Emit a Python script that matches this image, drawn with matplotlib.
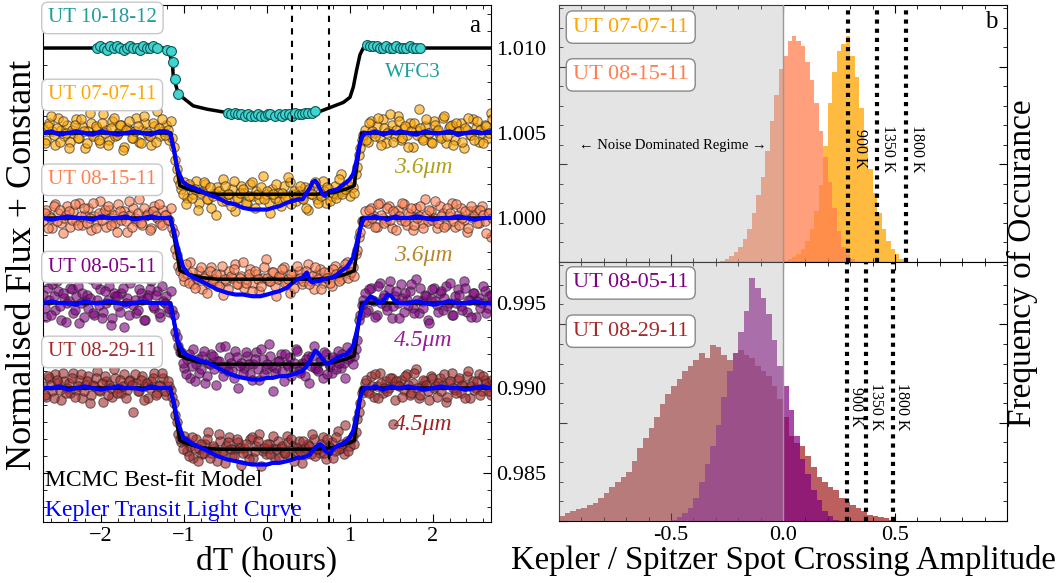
import numpy as np
import matplotlib
matplotlib.use("Agg")
import matplotlib.pyplot as plt
from matplotlib.ticker import AutoMinorLocator, MultipleLocator, FixedLocator, FormatStrFormatter

plt.rcParams['font.family'] = ['Liberation Serif', 'DejaVu Serif']
plt.rcParams['mathtext.fontset'] = 'custom'
plt.rcParams['mathtext.rm'] = 'Liberation Serif'
plt.rcParams['mathtext.it'] = 'Liberation Serif:italic'

# ---------------- panel a: light curves (flux offsets in units of 1e-4) -------------
spz_names = ['UT 07-07-11', 'UT 08-15-11', 'UT 08-05-11', 'UT 08-29-11']
spz_base = [1.005, 1.000, 0.995, 0.990]
spz_colors = ['orange', 'coral', 'purple', 'brown']
spz_band = ['3.6\u03bcm', '3.6\u03bcm', '4.5\u03bcm', '4.5\u03bcm']
spz_band_colors = ['#B0A01E', '#B8862B', '#9B1B9B', '#A52020']

# Spitzer points, two interleaved sets of 150 from -2.7 h to 2.7 h
spz_flux_a = [3, -4, 6, 1, -7, 9, 2, -2, 5, -5, 0, 8, -3, 4, -9, 1, 6, -1, 3, -6, 11, 2, -4, 7, -2,
              0, 5, -8, 3, 1, -3, 9, -5, 2, 6, -1, -7, 4, 13, -2, 1, 5, -4,
              -3, -16, -27,
              -33, -29, -38, -31, -36, -28, -41, -34, -30, -39, -44, -35, -32, -37, -27, -40, -36, -33,
              -46, -38, -31, -35, -42, -30, -37, -34, -39, -25, -36, -41, -33, -38, -35, -43, -31, -37,
              -29, -36, -40, -34, -38, -32, -45, -36, -30, -39, -35, -28, -41, -33, -37, -31, -36, -24,
              -34, -30, -37, -32,
              -24, -13, -4,
              2, -5, 7, 0, 4, -3, 8, -6, 1, 5, -2, 10, -4, 3, -1, 6, -8, 2, 14, -3, 4, 0, -5, 7, 1,
              -2, 9, -6, 3, 5, -4, 1, 6, -9, 2, -1, 8, 3, -5, 0, 5, -3, 12]
spz_flux_a2 = [-6, 4, 10, -1, 3, -5, 7, 0, -9, 2, 5, -3, 8, 1, -6, 12, -2, 4, -4, 6, 0, -7, 3, 9, -1,
               5, -10, 2, 7, -3, 1, 4, -6, 10, 0, -2, 6, -5, 3, 8, -1, 2, 7,
               -8, -21, -30,
               -36, -42, -30, -38, -33, -45, -35, -29, -39, -32, -37, -48, -34, -40, -31, -36, -43, -28,
               -38, -35, -33, -41, -37, -29, -44, -36, -32, -39, -34, -47, -36, -30, -40, -35, -38, -26,
               -42, -34, -37, -31, -39, -44, -33, -36, -29, -41, -37, -34, -32, -40, -35, -38, -27, -36,
               -33, -31, -29, -35,
               -20, -9, -1,
               -4, 6, 1, -2, 9, -7, 3, 0, 11, -5, 2, 7, -3, 4, -8, 1, 6, -1, 3, -4, 8, 0, -6, 5, 2,
               -3, 10, -2, 4, -7, 6, 1, -5, 3, 9, -1, -4, 7, 2, -6, 4, 0, 8]
spz_flux_b = [-2, 5, 1, -6, 8, 3, -3, 0, 7, -5, 4, -1, 9, -4, 2, 6, -7, 1, -2, 10, 3, -5, 5, 0, -3,
              8, -1, 4, -8, 2, 6, -2, 11, -4, 1, 3, -6, 7, 0, -3, 5, 2, -1,
              -6, -18, -28,
              -30, -37, -33, -26, -39, -35, -31, -42, -34, -38, -29, -36, -40, -33, -45, -37, -31, -35,
              -27, -39, -34, -41, -36, -30, -38, -33, -43, -35, -24, -37, -32, -40, -36, -34, -29, -38,
              -44, -33, -36, -31, -39, -35, -27, -37, -42, -33, -30, -38, -35, -32, -40, -28, -34, -36,
              -30, -26, -33, -29,
              -21, -11, -2,
              4, -3, 6, 1, -5, 9, 0, -2, 7, -6, 3, 5, -1, 8, -4, 2, -7, 6, 1, -3, 11, -2, 4, 0, -6,
              7, 3, -4, 1, 9, -5, 2, 6, -1, -8, 4, 0, 5, -3, 7, -2, 3, -11]
spz_flux_b2 = [3, -6, 0, 7, -2, 5, -9, 2, 4, -1, 8, -4, 1, 6, -3, 0, 9, -6, 3, -1, 5, 7, -4, 2, -8,
               4, 1, -2, 10, -5, 0, 3, -3, 6, 2, -7, 4, 1, 8, -4, 2, -1, 6,
               -9, -22, -31,
               -34, -27, -38, -32, -41, -36, -29, -35, -44, -31, -37, -33, -40, -28, -36, -42, -34, -30,
               -39, -35, -26, -38, -33, -43, -31, -36, -40, -29, -35, -37, -32, -46, -34, -30, -38, -36,
               -33, -41, -28, -35, -37, -31, -39, -34, -29, -36, -42, -32, -35, -38, -30, -33, -37, -31,
               -27, -35, -32, -34,
               -19, -8, -2,
               -2, 5, 0, -5, 8, 2, -3, 6, -1, 4, -7, 1, 9, -2, 3, 6, -4, 0, 7, -6, 2, 5, -1, 10, -3,
               1, -5, 6, 3, -2, 8, -4, 0, 4, -6, 7, 1, -3, 5, 2, -9, 3, 0]
spz_flux_c = [5, -8, 2, 11, -4, 7, -10, 3, 0, 9, -6, 4, -12, 6, 1, -3, 14, -7, 2, 8, -5, 0, 10, -9, 4,
              -2, 6, -14, 3, 12, -1, -6, 8, 2, -10, 5, 13, -3, 7, -8, 1, 4, -5,
              -4, -17, -25,
              -29, -38, -33, -44, -27, -36, -41, -31, -47, -35, -30, -39, -34, -26, -43, -37, -32, -40,
              -28, -50, -35, -38, -31, -42, -36, -29, -45, -33, -39, -24, -37, -41, -34, -30, -46, -36,
              -32, -38, -27, -40, -35, -43, -31, -37, -25, -39, -34, -44, -30, -36, -41, -33, -28, -38,
              -35, -26, -32, -36,
              -27, -10, -1,
              6, -4, 9, 1, -7, 12, 3, -2, 8, -9, 4, 0, 11, -5, 2, 7, -3, 14, -6, 1, 5, -10, 3, 9, -1,
              6, -4, 10, 0, -7, 4, 8, -2, 13, -5, 2, 6, -8, 3, 0, 7, -3, 5]
spz_flux_c2 = [-3, 9, -7, 4, 13, -2, 6, -11, 1, 8, -4, 10, 0, -8, 5, 3, -6, 11, -1, -9, 7, 2, -13, 6, 4,
               -5, 9, 0, -7, 15, 2, -4, 6, -10, 3, 8, -2, 5, -6, 10, 0, -3, 7,
               -7, -20, -29,
               -35, -42, -30, -37, -46, -33, -39, -28, -43, -36, -31, -48, -34, -38, -25, -40, -35, -44,
               -32, -37, -41, -29, -36, -45, -33, -39, -27, -42, -36, -31, -52, -38, -34, -40, -30, -37,
               -43, -35, -28, -41, -36, -33, -47, -31, -38, -40, -34, -29, -42, -37, -32, -39, -35, -30,
               -44, -33, -29, -31,
               -22, -7, 2,
               -5, 8, 2, -8, 10, 0, 5, -4, 13, -2, 7, -9, 3, 6, -1, 11, -6, 2, 9, -3, 4, -12, 8, 1, -5,
               7, 3, -2, 12, -7, 0, 5, -4, 9, 2, -8, 6, 1, -3, 10, -6, 4, 1]
spz_flux_d = [1, -5, 6, -2, 8, 3, -7, 4, 0, -3, 9, -1, 5, -6, 2, 7, -4, 1, 10, -2, -8, 4, 2, -5, 6,
              0, -3, 8, -1, 5, -14, 3, -2, 7, 1, -6, 4, 9, -3, 2, 6, -4, 1,
              -5, -16, -27,
              -32, -28, -37, -34, -41, -30, -36, -39, -33, -26, -38, -35, -43, -31, -37, -34, -29, -40,
              -36, -32, -45, -35, -38, -30, -41, -34, -27, -37, -39, -33, -36, -42, -31, -35, -38, -28,
              -40, -34, -37, -31, -44, -35, -33, -39, -30, -36, -38, -29, -42, -34, -32, -37, -25, -35,
              -39, -31, -34, -28,
              -26, -14, -3,
              3, -2, 7, -5, 1, 9, -3, 4, 0, 6, -7, 2, 5, -1, 8, -4, 3, 11, -6, 1, 4, -2, 7, 0, -5,
              6, 2, -8, 3, 9, -1, 5, -3, 1, 7, -6, 4, 0, 8, -2, 5, 1, -4]
spz_flux_d2 = [-4, 7, 2, -6, 5, -1, 9, -3, 3, 6, -5, 1, 8, -2, 4, -9, 2, 6, -1, 3, 7, -4, 0, 11, -3,
               5, 1, -6, 4, 2, 8, -2, 5, -7, 3, 0, 6, -4, 1, 9, -2, 4, -1,
               -9, -20, -30,
               -36, -31, -40, -29, -35, -43, -33, -38, -30, -41, -34, -37, -27, -39, -44, -32, -36, -40,
               -30, -35, -38, -33, -42, -29, -37, -31, -46, -35, -33, -39, -28, -36, -41, -34, -38, -32,
               -30, -43, -35, -37, -31, -39, -34, -27, -40, -36, -33, -38, -30, -35, -41, -29, -36, -33,
               -22, -37, -30, -33,
               -18, -9, -1,
               5, -3, 1, 8, -6, 3, 0, -2, 6, -21, 4, 1, -5, 7, 2, -3, 9, 0, -4, 5, 2, -7, 6, 1, 3,
               -2, 8, -5, 4, 0, -3, 6, 2, -6, 10, 1, -1, 4, -4, 7, 3, -2, 5]
spz_flux = [(spz_flux_a, spz_flux_a2), (spz_flux_b, spz_flux_b2),
            (spz_flux_c, spz_flux_c2), (spz_flux_d, spz_flux_d2)]

# MCMC best-fit model vertices (same shape for every Spitzer epoch)
model_t = [-2.7, -1.16, -1.05, -0.95, -0.8, -0.6, 0.0, 0.6, 0.8, 0.95, 1.05, 1.14, 2.7]
model_f = [0, 0, -31, -33, -35, -36, -36, -36, -35, -33, -31, 0, 0]

# Kepler transit light curves (one per epoch)
kep_t = [-2.7, -2.6, -2.5, -2.4, -2.3, -2.2, -2.1, -2.0, -1.9, -1.8, -1.7, -1.6, -1.5, -1.4, -1.3, -1.22,
         -1.17, -1.12, -1.08, -1.04, -1.01, -0.95, -0.89, -0.80, -0.72, -0.60, -0.48, -0.38, -0.29,
         -0.18, -0.08, 0.00, 0.07, 0.15, 0.24, 0.31, 0.37, 0.43, 0.48, 0.52, 0.55, 0.58, 0.61, 0.64,
         0.67, 0.70, 0.73, 0.76, 0.79, 0.85, 0.90, 0.96, 1.00, 1.04, 1.08, 1.12, 1.15, 1.18,
         1.25, 1.3, 1.35, 1.4, 1.45, 1.5, 1.55, 1.6, 1.7, 1.8, 1.9, 2.0, 2.1, 2.2, 2.3, 2.4, 2.5, 2.6, 2.7]
kep_a = [0, 1, -1, 0, 1, 0, -1, 1, 0, -1, 0, 1, 0, -1, 1, 1,
         0, -10, -21, -26, -29, -31, -32, -34, -36, -38, -41, -42, -44, -45, -45, -45, -44, -43, -41, -40,
         -39, -39, -35, -32, -29, -28, -30, -33, -36, -37, -35, -34, -34, -33, -31, -29, -27, -24, -16, -6,
         -2, 0,
         0, 1, 0, -1, 0, 1, 0, 1, 0, -1, 1, 0, 0, 1, -1, 0, 1, 0, 1]
kep_b = [0, -1, 0, 1, 0, 0, -1, 1, 0, 0, 1, -1, 0, 1, 0, 0,
         0, -8, -17, -24, -29, -33, -35, -37, -39, -42, -44, -45, -45, -46, -46, -45, -44, -43, -41, -38,
         -36, -35, -32, -37, -38, -37, -37, -37, -36, -36, -36, -35, -35, -33, -31, -29, -26, -23, -15, -7,
         -2, 0,
         0, 1, 0, 0, -1, 0, 1, 0, 0, 1, 0, -1, 0, 0, 1, 0, -1, 0, 0]
kep_c = [0, 1, 0, 0, -1, 1, 0, 0, 1, 0, -1, 0, 1, 0, 0, 0,
         0, -11, -22, -26, -29, -31, -32, -34, -35, -38, -41, -43, -44, -45, -45, -44, -44, -43, -43, -42,
         -41, -40, -37, -34, -31, -28, -29, -31, -33, -35, -36, -35, -34, -32, -31, -30, -28, -25, -17, -8,
         -2, 0,
         4, 2, 0, 1, 5, 4, 1, 0, 0, 1, 0, -1, 0, 1, 0, 0, 1, 0, 0]
kep_d = [0, 0, 1, -1, 0, 1, 0, -1, 0, 1, 0, 0, -1, 1, 0, 0,
         0, -9, -19, -25, -29, -31, -33, -35, -37, -40, -42, -43, -44, -45, -45, -45, -44, -44, -43, -42,
         -41, -41, -40, -39, -37, -35, -34, -33, -34, -37, -38, -39, -36, -34, -33, -31, -29, -25, -16, -6,
         -2, 0,
         0, 1, 0, -1, 0, 1, 0, 0, 1, 0, -1, 0, 1, 0, 0, -1, 0, 1, 0]
kep_flux = [kep_a, kep_b, kep_c, kep_d]

# HST/WFC3 epoch (base 1.010)
wfc3_t = [-2.05, -2.01, -1.97, -1.93, -1.89, -1.85, -1.81, -1.77, -1.73, -1.69, -1.65, -1.61, -1.57,
          -1.53, -1.49, -1.45, -1.41, -1.37, -1.33,
          -1.20, -1.16, -1.13, -1.11, -1.07,
          -0.47, -0.43, -0.39, -0.35, -0.31, -0.27, -0.23, -0.19, -0.15, -0.11, -0.07, -0.03, 0.01, 0.04,
          0.10, 0.14, 0.18, 0.22, 0.26, 0.30, 0.34, 0.38, 0.42, 0.46, 0.50, 0.54, 0.58,
          1.20, 1.24, 1.28, 1.32, 1.36, 1.40, 1.44, 1.48, 1.52, 1.56, 1.60, 1.64, 1.68, 1.72, 1.76, 1.80, 1.84]
wfc3_f = [0, 1, 0, -1, 1, 0, 1, 0, -1, 0, 1, 0, 0, -1, 1, 0, 0, 1, 0,
          -1, -2, -8, -18, -27,
          -38, -39, -38, -39, -39, -40, -39, -40, -40, -39, -40, -40, -39, -39,
          -40, -39, -40, -39, -39, -40, -38, -39, -39, -38, -38, -38, -37,
          2, 1, 1, 1, 0, 0, 1, 0, 0, 1, 0, 0, 0, 1, 0, 0, 0]
wfc3_model_t = [-2.7, -1.25, -1.19, -1.14, -1.13, -1.08, -1.02, -0.89, -0.72, -0.48, -0.33, 0.0, 0.31,
                0.6, 0.76, 0.92, 1.0, 1.04, 1.08, 1.12, 1.16, 2.7]
wfc3_model_f = [0, 0, -1, -9, -17, -25, -29, -34, -36, -38, -39, -40, -39, -38, -35, -32, -29, -23,
                -13, -4, 0, 0]

spot_times = [0.30, 0.75]

# ---------------- panel b: spot crossing amplitude histograms ----------------
edges_top = np.arange(-0.30, 0.561, 0.02)
hist_0815 = [0.0, 0.005, 0.01, 0.025, 0.04, 0.06, 0.09, 0.13, 0.19, 0.26, 0.33, 0.43, 0.55, 0.65, 0.75,
             0.80, 0.86, 0.88, 0.86, 0.84, 0.78, 0.71, 0.62, 0.51, 0.41, 0.31, 0.21, 0.12, 0.06, 0.03,
             0.01, 0.0, 0.0, 0.0, 0.0, 0.0, 0.0, 0.0, 0.0, 0.0, 0.0, 0.0, 0.0]
hist_0707 = [0.0, 0.0, 0.0, 0.0, 0.0, 0.0, 0.0, 0.0, 0.0, 0.0, 0.0, 0.0, 0.0, 0.0, 0.0,
             0.005, 0.01, 0.02, 0.03, 0.05, 0.08, 0.13, 0.20, 0.30, 0.45, 0.62, 0.74, 0.82, 0.85, 0.88,
             0.80, 0.72, 0.60, 0.45, 0.36, 0.27, 0.19, 0.13, 0.08, 0.05, 0.03, 0.01, 0.0]
edges_bot = np.arange(-1.0, 0.501, 0.025)
hist_0829 = [0.02, 0.03, 0.04, 0.045, 0.05, 0.06, 0.07, 0.09, 0.11, 0.13, 0.15, 0.17, 0.19, 0.23, 0.28,
             0.32, 0.36, 0.40, 0.45, 0.49, 0.52, 0.55, 0.58, 0.60, 0.62, 0.65, 0.63, 0.68, 0.67, 0.64,
             0.62, 0.65, 0.66, 0.64, 0.63, 0.60, 0.58, 0.56, 0.52, 0.47, 0.40, 0.33, 0.30, 0.29, 0.25,
             0.21, 0.17, 0.15, 0.13, 0.12, 0.09, 0.075, 0.06, 0.05, 0.04, 0.025, 0.02, 0.015, 0.01, 0.005]
edges_purple = np.arange(-0.5, 0.251, 0.025)
hist_0805 = [0.005, 0.015, 0.03, 0.05, 0.09, 0.15, 0.22, 0.29, 0.37, 0.48, 0.58, 0.65, 0.73, 0.81, 0.94,
             0.90, 0.86, 0.80, 0.70, 0.60, 0.52, 0.43, 0.33, 0.24, 0.18, 0.12, 0.08, 0.04, 0.02, 0.005]
temp_lines_top = [0.29, 0.42, 0.55]
temp_lines_bot = [0.284, 0.37, 0.49]
temp_labels = ['900 K', '1350 K', '1800 K']

# ---------------------------------------------------------------------------
fig = plt.figure(figsize=(10.6, 5.83), dpi=100)
axL = fig.add_axes([0.0406, 0.1046, 0.4226, 0.8868])
axT = fig.add_axes([0.5274, 0.5506, 0.4226, 0.4408])
axB = fig.add_axes([0.5274, 0.1063, 0.4226, 0.4443])

box_l = dict(boxstyle='round,pad=0.3', fc='white', ec='#c8c8c8', lw=1)
box_r = dict(boxstyle='round,pad=0.3', fc='white', ec='#888888', lw=1)

t_spz = np.linspace(-2.7, 2.7, 150)
t_spz2 = np.linspace(-2.682, 2.718, 150)
for i in range(4):
    base = spz_base[i]
    for tt, ff in zip((t_spz, t_spz2), spz_flux[i]):
        axL.scatter(tt, base + np.array(ff) * 1e-4, s=46, c=spz_colors[i], alpha=0.6,
                    edgecolors='#222222', linewidths=0.8, zorder=2)
    axL.plot(model_t, base + np.array(model_f) * 1e-4, color='black', lw=2.5, zorder=3)
    axL.plot(kep_t, base + np.array(kep_flux[i]) * 1e-4, color='blue', lw=3, zorder=4)

axL.plot(wfc3_model_t, 1.010 + np.array(wfc3_model_f) * 1e-4, color='black', lw=2.5, zorder=3)
axL.scatter(wfc3_t, 1.010 + np.array(wfc3_f) * 1e-4, s=50, c='#40D4D0', edgecolors='#0a5a5a',
            linewidths=0.8, zorder=4)

for ts in spot_times:
    axL.axvline(ts, color='black', ls=(0, (3, 3)), lw=1.5, zorder=5)

axL.set_xlim(-2.7, 2.7)
axL.set_ylim(0.98212, 1.01253)
axL.xaxis.set_major_locator(MultipleLocator(1))
axL.xaxis.set_minor_locator(AutoMinorLocator(5))
axL.yaxis.set_major_locator(MultipleLocator(0.005))
axL.yaxis.set_minor_locator(AutoMinorLocator(5))
axL.yaxis.set_major_formatter(FormatStrFormatter('%.3f'))
axL.tick_params(which='both', direction='in', top=True, right=True, left=True, bottom=True,
                labelleft=False, labelright=True, labelsize=16)
axL.tick_params(which='major', length=6)
axL.tick_params(which='minor', length=3)
axL.set_xlabel('dT (hours)', fontsize=24, labelpad=0)

axL.text(0.011, 0.975, 'UT 10-18-12', transform=axL.transAxes, color='#1E9E9A', fontsize=15,
         va='center', ha='left', bbox=box_l, zorder=10)
lab_y = [0.826, 0.662, 0.493, 0.329]
band_y = [0.685, 0.516, 0.352, 0.188]
for i in range(4):
    axL.text(0.011, lab_y[i], spz_names[i], transform=axL.transAxes, color=spz_colors[i],
             fontsize=15, va='center', ha='left', bbox=box_l, zorder=10)
    axL.text(0.848, band_y[i], spz_band[i], transform=axL.transAxes, color=spz_band_colors[i],
             fontsize=17, style='italic', va='center', ha='center', zorder=10)
axL.text(0.826, 0.87, 'WFC3', transform=axL.transAxes, color='#1E9E9A', fontsize=15,
         va='center', ha='center')
axL.text(0.004, 0.081, 'MCMC Best-fit Model', transform=axL.transAxes, color='black', fontsize=17,
         va='center', ha='left', zorder=10)
axL.text(0.004, 0.023, 'Kepler Transit Light Curve', transform=axL.transAxes, color='blue',
         fontsize=17, va='center', ha='left', zorder=10)
axL.text(0.975, 0.96, 'a', transform=axL.transAxes, fontsize=18, ha='right', va='center')

# right panels
axT.stairs(hist_0707, edges_top, fill=True, color='orange', alpha=0.75, lw=0, zorder=1)
axT.stairs(hist_0815, edges_top, fill=True, color='coral', alpha=0.75, lw=0, zorder=2)
axB.stairs(hist_0829, edges_bot, fill=True, color='brown', alpha=0.75, lw=0, zorder=1)
axB.stairs(hist_0805, edges_purple, fill=True, color='purple', alpha=0.7, lw=0, zorder=2)

for ax, lines in [(axT, temp_lines_top), (axB, temp_lines_bot)]:
    ax.axvspan(-1.0, 0.0, color='#b2b2b2', alpha=0.35, lw=0, zorder=3)
    ax.axvline(0.0, color='#999999', lw=1, zorder=3)
    for xv in lines:
        ax.axvline(xv, color='black', ls=(0, (1, 1.2)), lw=3, zorder=5)
    ax.set_xlim(-1.0, 1.0)
    ax.set_ylim(0, 1)
    ax.xaxis.set_major_locator(FixedLocator([-0.5, 0.0, 0.5]))
    ax.xaxis.set_minor_locator(MultipleLocator(0.1))
    ax.yaxis.set_major_locator(MultipleLocator(0.38))
    ax.yaxis.set_minor_locator(AutoMinorLocator(5))
    ax.tick_params(which='both', direction='in', top=True, right=True, left=True, bottom=True,
                   labelleft=False, labelsize=16)
    ax.tick_params(which='major', length=6)
    ax.tick_params(which='minor', length=3)

axT.tick_params(labelbottom=False)
axB.xaxis.set_major_formatter(FormatStrFormatter('%.1f'))
axB.set_xlabel('Kepler / Spitzer Spot Crossing Amplitude', fontsize=23.5, labelpad=0)

axT.text(0.031, 0.914, 'UT 07-07-11', transform=axT.transAxes, color='orange', fontsize=16,
         va='center', ha='left', bbox=box_r, zorder=10)
axT.text(0.031, 0.728, 'UT 08-15-11', transform=axT.transAxes, color='coral', fontsize=16,
         va='center', ha='left', bbox=box_r, zorder=10)
axB.text(0.031, 0.919, 'UT 08-05-11', transform=axB.transAxes, color='purple', fontsize=16,
         va='center', ha='left', bbox=box_r, zorder=10)
axB.text(0.031, 0.733, 'UT 08-29-11', transform=axB.transAxes, color='brown', fontsize=16,
         va='center', ha='left', bbox=box_r, zorder=10)
axT.text(-0.49, 0.455, '\u2190 Noise Dominated Regime \u2192', fontsize=10.5,
         ha='center', va='center', zorder=10)
axT.text(0.978, 0.935, 'b', transform=axT.transAxes, fontsize=18, ha='right', va='center')

top_tx = [0.342, 0.47, 0.60]
bot_tx = [0.325, 0.413, 0.533]
for j in range(3):
    axT.text(top_tx[j], 0.44, temp_labels[j], rotation=-90, fontsize=11.5, ha='center', va='center',
             zorder=10)
    axB.text(bot_tx[j], 0.44, temp_labels[j], rotation=-90, fontsize=11.5, ha='center', va='center',
             zorder=10)

fig.text(0.021, 0.545, 'Normalised Flux + Constant', rotation=90, fontsize=26, ha='center',
         va='center')
fig.text(0.965, 0.549, 'Frequency of Occurance', rotation=90, fontsize=24, ha='center', va='center')

fig.savefig('out.png', dpi=100)
plt.close(fig)
